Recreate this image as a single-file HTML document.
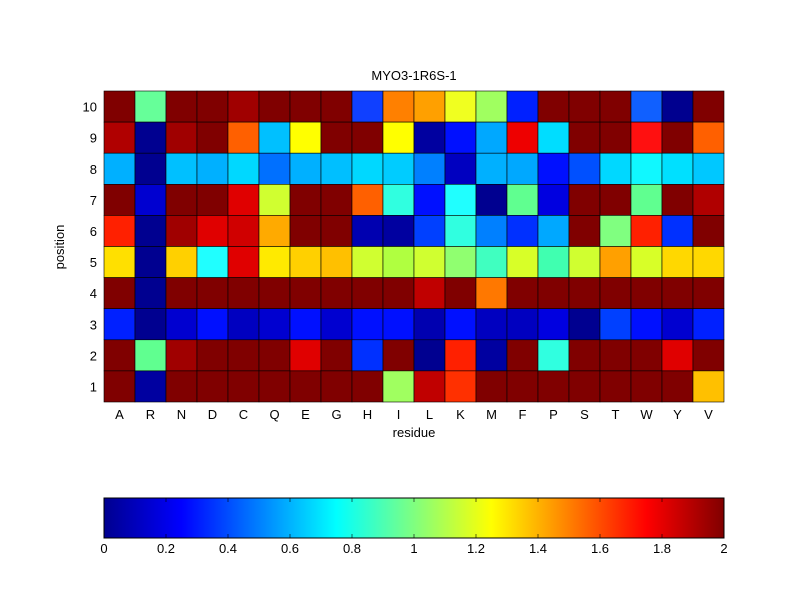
<!DOCTYPE html>
<html><head><meta charset="utf-8"><style>
body{margin:0;background:#fff;}
svg text{font-family:"Liberation Sans",sans-serif;font-size:13px;fill:#000;}
</style></head><body>
<svg id="s" width="800" height="600" xmlns="http://www.w3.org/2000/svg">
<defs><linearGradient id="jet" x1="0" x2="1" y1="0" y2="0">
<stop offset="0" stop-color="#00008f"/><stop offset="0.125" stop-color="#0000ff"/>
<stop offset="0.375" stop-color="#00ffff"/><stop offset="0.625" stop-color="#ffff00"/>
<stop offset="0.875" stop-color="#ff0000"/><stop offset="1" stop-color="#800000"/>
</linearGradient></defs>
<rect width="800" height="600" fill="#fff"/>
<g id="cells"></g>
<text x="414" y="80" text-anchor="middle">MYO3-1R6S-1</text>
<g id="lab"></g>
<text x="414" y="437" text-anchor="middle">residue</text>
<text transform="translate(64,247) rotate(-90)" text-anchor="middle">position</text>
<rect x="104" y="498" width="620" height="40" fill="url(#jet)" stroke="#000" stroke-width="1"/>
<g id="cb"></g>
</svg>
<script>
var D="#800000";
var rows=[
[D,"#66ff99",D,D,"#a00000",D,D,D,"#1040ff","#ff8000","#ffa000","#f0ff20","#a0ff60","#0020ff",D,D,D,"#1060ff","#00008f",D],
["#b00000","#000090","#a00000",D,"#ff6000","#00c0ff","#ffff00",D,D,"#ffff00","#0000a0","#0010ff","#00a8ff","#ee0000","#00ddff",D,D,"#ff1010",D,"#ff6000"],
["#00b0ff","#000090","#00c0ff","#00b0ff","#00d8ff","#0070ff","#00b0ff","#00bfff","#00d8ff","#00ccff","#0080ff","#0000c0","#00b0ff","#00a8ff","#0010ff","#0050ff","#00d8ff","#10f8ff","#00e0ff","#00c8ff"],
[D,"#0000d0",D,D,"#e00000","#d0ff30",D,D,"#ff6000","#30ffe0","#0010ff","#20ffff","#000090","#60ff90","#0000e0",D,D,"#60ff90",D,"#b00000"],
["#ff2000","#000090","#a00000","#e00000","#d00000","#ffaa00",D,D,"#0000b0","#0000a0","#0040ff","#30ffe0","#0080ff","#0030ff","#00a8ff",D,"#80ff80","#ff2000","#0030ff",D],
["#ffe000","#000090","#ffd000","#20ffff","#e00000","#ffea00","#ffd000","#ffc000","#d0ff30","#b0ff40","#d0ff30","#90ff70","#40ffc0","#d8ff28","#40ffb0","#d0ff30","#ffa000","#d8ff28","#ffd800","#ffd800"],
[D,"#000090",D,D,D,D,D,D,D,D,"#c00000",D,"#ff7800",D,D,D,D,D,D,D],
["#0020ff","#000090","#0000d0","#0010ff","#0000c0","#0000d0","#0010ff","#0000d0","#0010ff","#0010ff","#0000b0","#0010ff","#0000c0","#0000c0","#0000e0","#000090","#0040ff","#0010ff","#0000d0","#0020ff"],
[D,"#60ff90","#a00000",D,D,D,"#e00000",D,"#0030ff",D,"#000090","#ff2000","#0000a0",D,"#30ffe0",D,D,D,"#e00000",D],
[D,"#0000a0",D,D,D,D,D,D,D,"#a0ff60","#c00000","#ff3000",D,D,D,D,D,D,D,"#ffc000"]];
var ns="http://www.w3.org/2000/svg",g=document.getElementById("cells"),h="";
var x0=104,y0=91,cw=31,ch=31.1;
for(var r=0;r<10;r++)for(var c=0;c<20;c++)
h+='<rect x="'+(x0+c*cw)+'" y="'+(y0+r*ch)+'" width="'+cw+'" height="'+ch+'" fill="'+rows[r][c]+'" stroke="#000" stroke-width="0.6"/>';
g.innerHTML=h;
var L="ARNDCQEGHILKMFPSTWYV",l="";
for(var c=0;c<20;c++)l+='<text x="'+(x0+c*cw+cw/2)+'" y="419" text-anchor="middle">'+L[c]+'</text>';
for(var r=0;r<10;r++)l+='<text x="97" y="'+(y0+r*ch+ch/2+5)+'" text-anchor="end">'+(10-r)+'</text>';
document.getElementById("lab").innerHTML=l;
var cb="";
for(var i=0;i<=10;i++){var x=104+i*62;
cb+='<line x1="'+x+'" x2="'+x+'" y1="498" y2="502" stroke="#000" stroke-width="0.6"/><line x1="'+x+'" x2="'+x+'" y1="534" y2="538" stroke="#000" stroke-width="0.6"/>';
var t=(i*0.2).toFixed(1).replace(/\.0$/,"");
cb+='<text x="'+x+'" y="553" text-anchor="middle">'+t+'</text>';}
document.getElementById("cb").innerHTML=cb;
</script>
</body></html>
